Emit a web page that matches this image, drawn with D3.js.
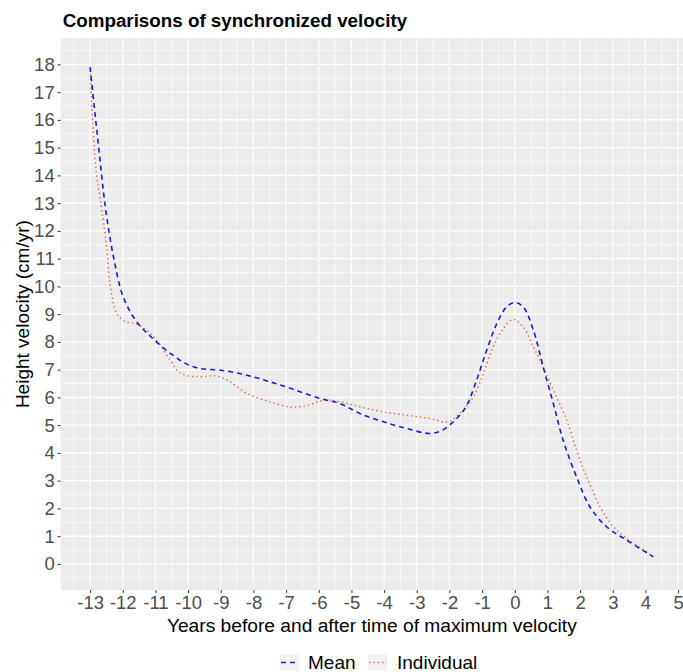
<!DOCTYPE html>
<html>
<head>
<meta charset="utf-8">
<script src="https://cdn.jsdelivr.net/npm/d3@7"></script>
<style>
  body { margin: 0; background: #fff; }
  svg { display: block; font-family: "Liberation Sans", Arial, sans-serif; }
</style>
</head>
<body>
<svg id="chart" width="683" height="672"></svg>
<script>
// ---- data ----
const meanX = [-13, -12.82, -12.71, -12.59, -12.49, -12.29, -11.98, -11.57, -11.06, -10.5, -10.04, -9.63, -9.0, -8.2, -7.49, -6.78, -5.96, -5.35, -4.74, -4.02, -3.31, -2.6, -2.25, -1.9, -1.5, -1.17, -0.86, -0.55, -0.25, 0.0, 0.26, 0.57, 0.87, 1.18, 1.48, 1.89, 2.3, 2.81, 3.42, 4.24];
const meanY = [17.9, 15.9, 14.7, 13.4, 12.5, 11.1, 9.6, 8.72, 8.1, 7.55, 7.2, 7.04, 6.98, 6.8, 6.56, 6.29, 5.96, 5.78, 5.42, 5.12, 4.88, 4.7, 4.8, 5.1, 5.65, 6.62, 7.7, 8.66, 9.26, 9.42, 9.26, 8.42, 7.1, 5.78, 4.46, 3.14, 2.06, 1.34, 0.86, 0.26];
const indX = [-13, -12.9, -12.8, -12.66, -12.5, -12.39, -12.18, -11.95, -11.6, -11.3, -10.96, -10.55, -10.24, -9.73, -9.12, -8.71, -8.2, -7.49, -6.9, -6.6, -6.27, -5.86, -5.35, -4.74, -4.02, -3.31, -2.59, -2.05, -1.68, -1.27, -0.96, -0.66, -0.35, -0.05, 0.26, 0.57, 0.87, 1.18, 1.59, 1.89, 2.2, 2.61, 3.02, 3.42, 4.24];
const indY = [17.8, 15.5, 14.0, 12.9, 11.5, 10.1, 9.02, 8.75, 8.65, 8.45, 8.06, 7.34, 6.88, 6.74, 6.77, 6.56, 6.14, 5.84, 5.66, 5.66, 5.74, 5.9, 5.84, 5.66, 5.48, 5.36, 5.24, 5.12, 5.42, 6.02, 6.86, 7.82, 8.48, 8.81, 8.54, 7.82, 7.1, 6.26, 5.18, 4.1, 3.14, 2.06, 1.34, 0.93, 0.26];
const xTicks = [-13, -12, -11, -10, -9, -8, -7, -6, -5, -4, -3, -2, -1, 0, 1, 2, 3, 4, 5];
const yTicks = [0, 1, 2, 3, 4, 5, 6, 7, 8, 9, 10, 11, 12, 13, 14, 15, 16, 17, 18];
const seriesNames = ["Mean", "Individual"];
const titleText = "Comparisons of synchronized velocity";
const xTitle = "Years before and after time of maximum velocity";
const yTitle = "Height velocity (cm/yr)";

// ---- layout ----
const panel = { left: 60.7, right: 683, top: 38.3, bottom: 590 };
const colMean = "#1a1ad6";
const colInd = "#e2623e";

const svg = d3.select("#chart");
const x = d3.scaleLinear().domain([-13.9, 5.15]).range([panel.left, panel.right]);
const y = d3.scaleLinear().domain([-0.94, 18.94]).range([panel.bottom, panel.top]);

// panel background
svg.append("rect")
  .attr("x", panel.left).attr("y", panel.top)
  .attr("width", panel.right - panel.left).attr("height", panel.bottom - panel.top)
  .attr("fill", "#EBEBEB");

const grid = svg.append("g");
const xMinor = xTicks.map(v => v - 0.5).concat([5.5]).filter(v => x(v) > panel.left && x(v) < panel.right);
const yMinor = yTicks.map(v => v - 0.5).concat([18.5]).filter(v => y(v) > panel.top && y(v) < panel.bottom);
grid.selectAll(".xm").data(xMinor).join("line")
  .attr("x1", d => x(d)).attr("x2", d => x(d))
  .attr("y1", panel.top).attr("y2", panel.bottom)
  .attr("stroke", "#fff").attr("stroke-width", 0.6);
grid.selectAll(".ym").data(yMinor).join("line")
  .attr("y1", d => y(d)).attr("y2", d => y(d))
  .attr("x1", panel.left).attr("x2", panel.right)
  .attr("stroke", "#fff").attr("stroke-width", 0.6);
grid.selectAll(".xM").data(xTicks).join("line")
  .attr("x1", d => x(d)).attr("x2", d => x(d))
  .attr("y1", panel.top).attr("y2", panel.bottom)
  .attr("stroke", "#fff").attr("stroke-width", 1.2);
grid.selectAll(".yM").data(yTicks).join("line")
  .attr("y1", d => y(d)).attr("y2", d => y(d))
  .attr("x1", panel.left).attr("x2", panel.right)
  .attr("stroke", "#fff").attr("stroke-width", 1.2);

// axes
const fmt = d => String(d);
const xAxis = d3.axisBottom(x).tickValues(xTicks).tickSize(3).tickPadding(3).tickFormat(fmt);
const gx = svg.append("g").attr("transform", `translate(0,${panel.bottom})`).call(xAxis);
gx.select(".domain").remove();
gx.selectAll(".tick line").attr("stroke", "#333");
gx.selectAll(".tick text").attr("fill", "#4D4D4D").style("font-size", "18.5px")
  .style("font-family", "Liberation Sans, Arial, sans-serif");

const yAxis = d3.axisLeft(y).tickValues(yTicks).tickSize(3).tickPadding(3).tickFormat(fmt);
const gy = svg.append("g").attr("transform", `translate(${panel.left},0)`).call(yAxis);
gy.select(".domain").remove();
gy.selectAll(".tick line").attr("stroke", "#333");
gy.selectAll(".tick text").attr("fill", "#4D4D4D").style("font-size", "18.5px")
  .style("font-family", "Liberation Sans, Arial, sans-serif");

// lines
const line = d3.line().x(d => x(d[0])).y(d => y(d[1])).curve(d3.curveCatmullRom.alpha(0.5));
const meanData = meanX.map((v, i) => [v, meanY[i]]);
const indData = indX.map((v, i) => [v, indY[i]]);

svg.append("path").datum(indData)
  .attr("d", line).attr("fill", "none")
  .attr("stroke", colInd).attr("stroke-width", 1.4)
  .attr("stroke-dasharray", "1.4,3");
svg.append("path").datum(meanData)
  .attr("d", line).attr("fill", "none")
  .attr("stroke", colMean).attr("stroke-width", 1.6)
  .attr("stroke-dasharray", "5,4");

// titles
svg.append("text").attr("x", panel.left + 2).attr("y", 27)
  .attr("fill", "#000").style("font-weight", "bold").style("font-size", "18.8px")
  .text(titleText);
svg.append("text").attr("x", (panel.left + panel.right) / 2).attr("y", 632)
  .attr("text-anchor", "middle").attr("fill", "#000").style("font-size", "19.2px")
  .text(xTitle);
svg.append("text")
  .attr("transform", `translate(29,${(panel.top + panel.bottom) / 2}) rotate(-90)`)
  .attr("text-anchor", "middle").attr("fill", "#000").style("font-size", "19px")
  .text(yTitle);

// legend
const legend = svg.append("g");
const legendItems = [
  { name: seriesNames[0], color: colMean, dash: "5,4", w: 1.6, kx: 280, tx: 308 },
  { name: seriesNames[1], color: colInd, dash: "1.4,3", w: 1.4, kx: 368, tx: 397 }
];
legendItems.forEach(it => {
  legend.append("rect").attr("x", it.kx).attr("y", 654).attr("width", 19).attr("height", 17).attr("fill", "#F2F2F2");
  legend.append("line").attr("x1", it.kx + 1).attr("x2", it.kx + 19).attr("y1", 662.5).attr("y2", 662.5)
    .attr("stroke", it.color).attr("stroke-width", it.w).attr("stroke-dasharray", it.dash);
  legend.append("text").attr("x", it.tx).attr("y", 669).attr("fill", "#000").style("font-size", "19px").text(it.name);
});
</script>
</body>
</html>
